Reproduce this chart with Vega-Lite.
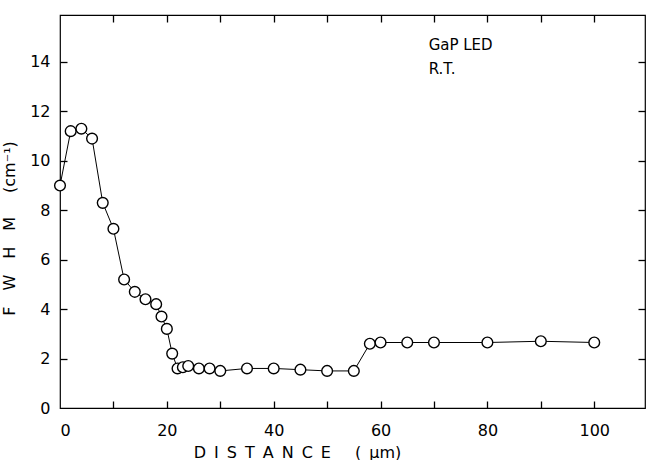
{
  "$schema": "https://vega.github.io/schema/vega-lite/v6.json",
  "width": 585,
  "height": 393,
  "autosize": "none",
  "padding": {"left": 60, "top": 15, "right": 1, "bottom": 52},
  "background": "white",
  "config": {
    "view": {"stroke": "black", "strokeWidth": 1.2},
    "font": "DejaVu Sans",
    "axis": {"domain": false, "grid": false, "labelColor": "black", "titleColor": "black", "labelFont": "DejaVu Sans", "titleFont": "DejaVu Sans", "labelFontSize": 16, "titleFontSize": 16, "titleFontWeight": "normal"}
  },
  "datasets": {
    "fwhm": [
      {"d": 0, "w": 9.0},
      {"d": 2, "w": 11.2},
      {"d": 4, "w": 11.3},
      {"d": 6, "w": 10.9},
      {"d": 8, "w": 8.3},
      {"d": 10, "w": 7.25},
      {"d": 12, "w": 5.2},
      {"d": 14, "w": 4.7},
      {"d": 16, "w": 4.4},
      {"d": 18, "w": 4.2},
      {"d": 19, "w": 3.7},
      {"d": 20, "w": 3.2},
      {"d": 21, "w": 2.2},
      {"d": 22, "w": 1.6},
      {"d": 23, "w": 1.65},
      {"d": 24, "w": 1.7},
      {"d": 26, "w": 1.6},
      {"d": 28, "w": 1.6},
      {"d": 30, "w": 1.5},
      {"d": 35, "w": 1.6},
      {"d": 40, "w": 1.6},
      {"d": 45, "w": 1.55},
      {"d": 50, "w": 1.5},
      {"d": 55, "w": 1.5},
      {"d": 58, "w": 2.6},
      {"d": 60, "w": 2.65},
      {"d": 65, "w": 2.65},
      {"d": 70, "w": 2.65},
      {"d": 80, "w": 2.65},
      {"d": 90, "w": 2.7},
      {"d": 100, "w": 2.65}
    ],
    "notes": [
      {"d": 69, "w": 14.7, "t": "GaP LED"},
      {"d": 69, "w": 13.7, "t": "R.T."}
    ]
  },
  "resolve": {"axis": {"x": "independent", "y": "independent"}},
  "layer": [
    {
      "data": {"name": "fwhm"},
      "mark": {"type": "line", "color": "black", "strokeWidth": 1},
      "encoding": {
        "x": {"field": "d", "type": "quantitative", "scale": {"domain": [0, 109.5], "nice": false, "zero": false},
          "axis": {"orient": "bottom", "values": [0, 20, 40, 60, 80, 100], "ticks": false, "labelPadding": 14, "title": "D\u2002I\u2002S\u2002T\u2002A\u2002N\u2002C\u2002E\u2002\u2002\u2002(\u2002μm)", "titleX": 237, "titlePadding": 6}},
        "y": {"field": "w", "type": "quantitative", "scale": {"domain": [0, 15.9], "nice": false},
          "axis": {"orient": "left", "values": [0, 2, 4, 6, 8, 10, 12, 14], "ticks": false, "labelPadding": 10, "title": "F\u2002\u2002W\u2002\u2002H\u2002\u2002M\u2002\u2002\u2002(cm⁻¹)", "titleY": 213, "titlePadding": 12}}
      }
    },
    {
      "data": {"name": "fwhm"},
      "mark": {"type": "point", "shape": "circle", "filled": false, "fill": "white", "fillOpacity": 1, "stroke": "black", "strokeWidth": 1.4, "size": 115, "opacity": 1},
      "encoding": {
        "x": {"field": "d", "type": "quantitative", "axis": {"orient": "top", "values": [10, 20, 30, 40, 50, 60, 70, 80, 90, 100], "labels": false, "domain": false, "ticks": true, "tickColor": "black", "tickWidth": 1.3, "tickSize": -7, "title": null}},
        "y": {"field": "w", "type": "quantitative", "axis": {"orient": "right", "values": [2, 4, 6, 8, 10, 12, 14], "labels": false, "domain": false, "ticks": true, "tickColor": "black", "tickWidth": 1.3, "tickSize": -7, "title": null}}
      }
    },
    {
      "data": {"name": "notes"},
      "mark": {"type": "text", "align": "left", "baseline": "middle", "fontSize": 15, "font": "DejaVu Sans", "color": "black"},
      "encoding": {
        "x": {"field": "d", "type": "quantitative", "axis": {"orient": "bottom", "values": [10, 20, 30, 40, 50, 60, 70, 80, 90, 100], "labels": false, "domain": false, "ticks": true, "tickColor": "black", "tickWidth": 1.3, "tickSize": -7, "title": null}},
        "y": {"field": "w", "type": "quantitative", "axis": {"orient": "left", "values": [2, 4, 6, 8, 10, 12, 14], "labels": false, "domain": false, "ticks": true, "tickColor": "black", "tickWidth": 1.3, "tickSize": -7, "title": null}},
        "text": {"field": "t"}
      }
    }
  ]
}
